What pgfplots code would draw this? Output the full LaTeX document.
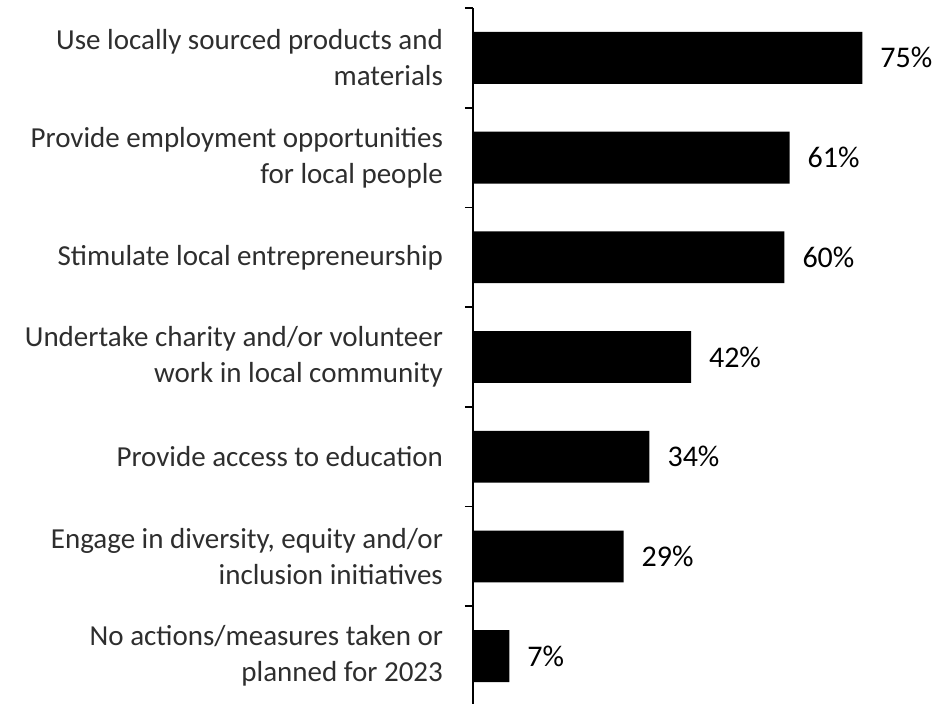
\documentclass[border=0pt]{standalone}
\usepackage{pgfplots}
\pgfplotsset{compat=1.18}
\usepackage{fontspec}
\setmainfont{Carlito}
\begin{document}
\begin{tikzpicture}
\begin{axis}[
  at={(0pt,0pt)}, anchor=south west,
  scale only axis, width=238pt, height=349pt,
  xmin=0, xmax=91.7, ymin=-0.5, ymax=6.5,
  y dir=reverse, xbar, bar width=0.52,
  axis x line=none, axis y line*=left,
  axis line style={line width=0.8pt},
  ytick={0,...,6},
  yticklabels={{Use locally sourced products and\\materials},
    {Provide employment opportunities\\for local people},
    {Stimulate local entrepreneurship},
    {Undertake charity and/or volunteer\\work in local community},
    {Provide access to education},
    {Engage in diversity, equity and/or\\inclusion initiatives},
    {No actions/measures taken or\\planned for 2023}},
  major tick length=0pt,
  minor ytick={-0.5,0.5,...,6.5},
  minor tick length=4pt,
  tick align=outside,
  tick style={line width=0.8pt, black},
  yticklabel style={align=right, font=\fontsize{14.5}{18}\selectfont, xshift=-11.5pt, text=black!82},
  clip=false, enlargelimits=false,
  point meta=x,
  nodes near coords={\pgfmathprintnumber[assume math mode=true]{\pgfplotspointmeta}\%},
  nodes near coords style={anchor=west, xshift=5.5pt, font=\fontsize{15}{17}\selectfont, black},
]
\addplot[fill=black, draw=none] coordinates {(75,0) (61,1) (60,2) (42,3) (34,4) (29,5) (7,6)};
\end{axis}
\pgfresetboundingbox
\useasboundingbox (-236.5pt,1.5pt) rectangle (238pt,353pt);
\end{tikzpicture}
\end{document}
